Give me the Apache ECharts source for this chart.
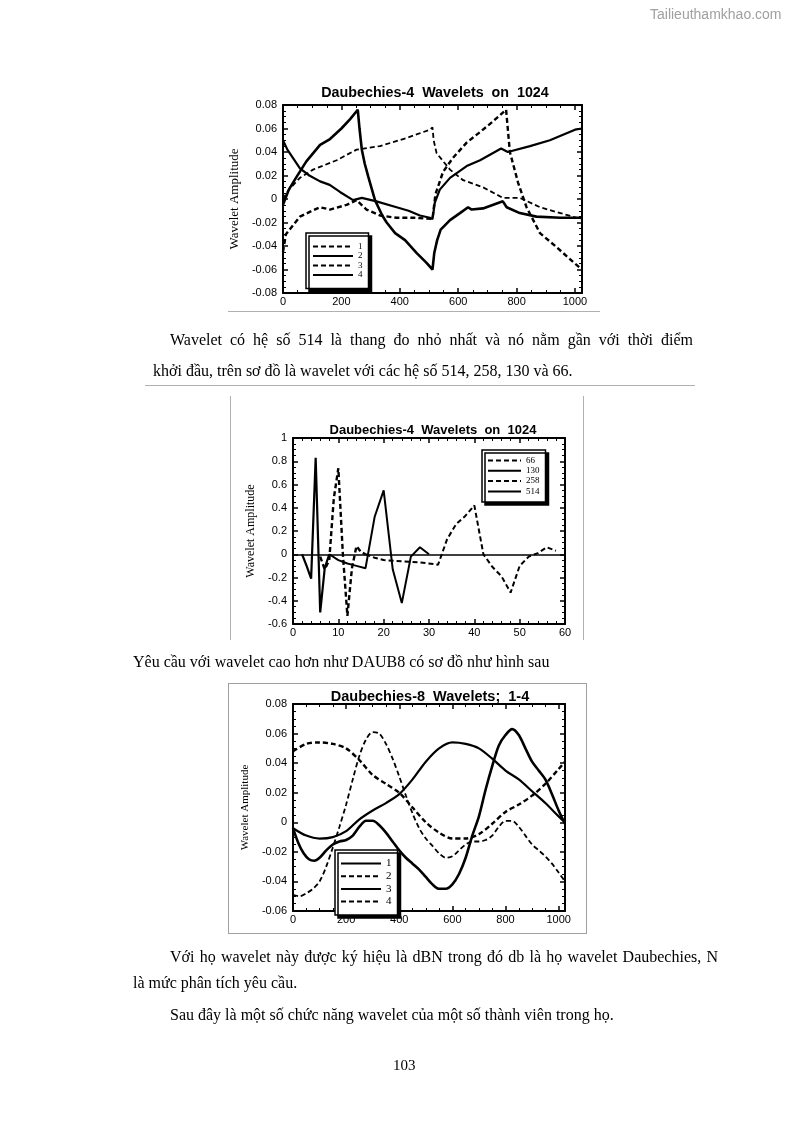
<!DOCTYPE html>
<html>
<head>
<meta charset="utf-8">
<script src="https://cdn.jsdelivr.net/npm/echarts@6/dist/echarts.min.js"></script>
<style>
  html,body{margin:0;padding:0;background:#fff;}
  #page{position:relative;width:794px;height:1123px;overflow:hidden;background:#fff;}
  #chart{position:absolute;left:0;top:0;width:794px;height:1123px;}
  .t{position:absolute;font-family:'Liberation Serif','Times New Roman',serif;font-size:16px;line-height:18px;color:#000;white-space:nowrap;}
  .j{text-align:justify;text-align-last:justify;white-space:normal;}
  .g{position:absolute;background:#b0b0b0;}
</style>
</head>
<body>
<div id="page">
  <div id="chart"></div>
  <div class="t" style="left:650px;top:5px;font-family:'Liberation Sans',Arial,sans-serif;font-size:14px;color:#a0a0a0;">Tailieuthamkhao.com</div>
  <div class="g" style="left:228px;top:311px;width:372px;height:1px;"></div>
  <div class="t j" style="left:170px;top:331px;width:523px;">Wavelet có hệ số 514 là thang đo nhỏ nhất và nó nằm gần với thời điểm</div>
  <div class="t" style="left:153px;top:362px;">khởi đầu, trên sơ đồ là wavelet với các hệ số 514, 258, 130 và 66.</div>
  <div class="g" style="left:145px;top:385px;width:550px;height:1px;"></div>
  <div class="g" style="left:230px;top:396px;width:1px;height:244px;"></div>
  <div class="g" style="left:583px;top:396px;width:1px;height:244px;"></div>
  <div class="t" style="left:133px;top:653px;">Yêu cầu với wavelet cao hơn như DAUB8 có sơ đồ như hình sau</div>
  <div style="position:absolute;left:228px;top:683px;width:357px;height:249px;border:1px solid #a0a0a0;"></div>
  <div class="t j" style="left:170px;top:948px;width:548px;">Với họ wavelet này được ký hiệu là dBN trong đó db là họ wavelet Daubechies, N</div>
  <div class="t" style="left:133px;top:974px;">là mức phân tích yêu cầu.</div>
  <div class="t" style="left:170px;top:1006px;">Sau đây là một số chức năng wavelet của một số thành viên trong họ.</div>
  <div class="t" style="left:393px;top:1056px;font-size:15px;">103</div>
</div>
<script>
// ---------- Chart 1: Daubechies-4 wavelets on 1024 (components 1-4) ----------
const d4_1_x = [0, 20, 58, 103, 184, 252, 332, 424, 503, 512, 516, 526, 572, 617, 685, 753, 811, 880, 950, 1006, 1024];
const d4_1_y = [0.000, 0.008, 0.018, 0.025, 0.033, 0.042, 0.045, 0.052, 0.059, 0.061, 0.050, 0.039, 0.025, 0.016, 0.010, 0.001, 0.001, -0.007, -0.012, -0.016, -0.017];

const d4_2_x = [0, 15, 58, 90, 127, 160, 195, 240, 270, 320, 389, 430, 469, 503, 512, 520, 537, 572, 629, 675, 747, 770, 846, 914, 1000, 1024];
const d4_2_y = [0.050, 0.042, 0.026, 0.020, 0.015, 0.012, 0.006, -0.001, 0.001, -0.002, -0.007, -0.010, -0.014, -0.016, -0.017, -0.003, 0.008, 0.018, 0.028, 0.033, 0.043, 0.040, 0.045, 0.050, 0.059, 0.060];

const d4_3_x = [0, 10, 58, 100, 127, 161, 218, 252, 286, 332, 389, 450, 512, 522, 548, 582, 629, 675, 719, 764, 777, 805, 834, 880, 937, 1000, 1024];
const d4_3_y = [-0.045, -0.030, -0.015, -0.010, -0.007, -0.009, -0.005, -0.001, -0.009, -0.014, -0.016, -0.016, -0.017, 0.004, 0.023, 0.035, 0.048, 0.057, 0.066, 0.076, 0.040, 0.014, -0.007, -0.029, -0.041, -0.055, -0.060];

const d4_4_x = [0, 20, 47, 80, 127, 161, 200, 230, 256, 262, 270, 280, 292, 315, 340, 355, 384, 418, 458, 490, 512, 518, 528, 540, 572, 606, 634, 646, 685, 753, 766, 811, 868, 950, 1024];
const d4_4_y = [-0.005, 0.008, 0.019, 0.032, 0.046, 0.051, 0.060, 0.068, 0.076, 0.060, 0.042, 0.030, 0.019, -0.001, -0.014, -0.020, -0.029, -0.035, -0.046, -0.054, -0.060, -0.046, -0.035, -0.026, -0.018, -0.012, -0.007, -0.009, -0.008, -0.002, -0.007, -0.012, -0.015, -0.016, -0.016];

// ---------- Chart 2: Daubechies-4 wavelets on 1024 (coefficients 66, 130, 258, 514) ----------
const w66_x = [16, 18, 20, 24, 28, 32, 34, 36, 38, 40, 42, 44, 46, 48, 50, 52, 54, 56, 58];
const w66_y = [0, -0.03, -0.05, -0.06, -0.07, -0.09, 0.13, 0.26, 0.33, 0.42, 0.0, -0.11, -0.19, -0.33, -0.10, -0.02, 0.01, 0.06, 0.03];

const w130_x = [8, 10, 12, 14, 16, 18, 20, 22, 24, 26, 28, 30];
const w130_y = [0, -0.05, -0.08, -0.10, -0.12, 0.32, 0.55, -0.13, -0.42, -0.02, 0.06, 0];

const w258_x = [6, 7, 8, 9, 10, 11, 12, 13, 14, 15, 16];
const w258_y = [-0.02, -0.13, -0.05, 0.48, 0.74, 0.0, -0.53, -0.12, 0.07, 0.02, 0];

const w514_x = [2, 3, 4, 5, 6, 7, 8];
const w514_y = [0, -0.10, -0.21, 0.83, -0.50, -0.12, 0];

// ---------- Chart 3: Daubechies-8 wavelets; 1-4 ----------
const d8_1_x = [0, 50, 100, 150, 200, 250, 300, 350, 400, 450, 500, 550, 600, 650, 700, 750, 800, 850, 900, 950, 1000, 1024];
const d8_1_y = [-0.004, -0.009, -0.011, -0.010, -0.006, 0.002, 0.008, 0.013, 0.019, 0.029, 0.041, 0.050, 0.054, 0.053, 0.050, 0.043, 0.035, 0.029, 0.021, 0.013, 0.004, 0.0];

const d8_2_x = [0, 50, 100, 150, 200, 250, 300, 350, 400, 450, 500, 550, 600, 650, 700, 750, 800, 850, 900, 950, 1000, 1024];
const d8_2_y = [0.048, 0.053, 0.054, 0.053, 0.050, 0.042, 0.032, 0.026, 0.020, 0.010, 0.000, -0.007, -0.011, -0.011, -0.008, -0.001, 0.007, 0.012, 0.018, 0.026, 0.036, 0.041];

const d8_3_x = [0, 20, 40, 60, 80, 100, 125, 150, 175, 200, 225, 250, 275, 300, 325, 350, 375, 400, 425, 450, 475, 500, 525, 550, 575, 600, 625, 650, 675, 700, 725, 750, 775, 800, 825, 850, 875, 900, 925, 950, 975, 1000, 1024];
const d8_3_y = [-0.004, -0.014, -0.021, -0.025, -0.026, -0.024, -0.019, -0.015, -0.013, -0.012, -0.009, -0.003, 0.001, 0.001, -0.002, -0.007, -0.013, -0.019, -0.024, -0.028, -0.032, -0.037, -0.042, -0.045, -0.045, -0.042, -0.035, -0.024, -0.009, 0.004, 0.022, 0.038, 0.052, 0.059, 0.063, 0.059, 0.050, 0.041, 0.035, 0.029, 0.019, 0.008, -0.001];

const d8_4_x = [0, 25, 50, 75, 100, 125, 150, 175, 200, 225, 250, 275, 300, 325, 350, 375, 400, 425, 450, 475, 500, 525, 550, 575, 600, 625, 650, 675, 700, 725, 750, 775, 800, 825, 850, 875, 900, 925, 950, 975, 1000, 1024];
const d8_4_y = [-0.049, -0.050, -0.048, -0.045, -0.040, -0.030, -0.017, -0.003, 0.012, 0.029, 0.045, 0.056, 0.061, 0.060, 0.053, 0.043, 0.031, 0.018, 0.006, -0.004, -0.011, -0.016, -0.021, -0.024, -0.023, -0.019, -0.015, -0.013, -0.013, -0.012, -0.009, -0.003, 0.001, 0.001, -0.003, -0.009, -0.015, -0.019, -0.023, -0.028, -0.034, -0.040];

// ---------- text ----------
const titles = ['Daubechies-4  Wavelets  on  1024', 'Daubechies-4  Wavelets  on  1024', 'Daubechies-8  Wavelets;  1-4'];
const yName = 'Wavelet Amplitude';

function pairs(xs, ys) { return xs.map((x, i) => [x, ys[i]]); }

const SANS = "'Liberation Sans', Arial, sans-serif";
const SERIF = "'Liberation Serif', 'Times New Roman', serif";

const grids = [
  {left: 283, top: 105, width: 299, height: 188},
  {left: 293, top: 438, width: 272, height: 186},
  {left: 293, top: 704, width: 272, height: 207}
];
const axisCfg = [
  {xmax: 1024, xint: 200, xminor: 4, ymin: -0.08, ymax: 0.08, yint: 0.02, yminor: 4, gap: 42, nfs: 13},
  {xmax: 60, xint: 10, xminor: 5, ymin: -0.6, ymax: 1, yint: 0.2, yminor: 4, gap: 36, nfs: 12},
  {xmax: 1024, xint: 200, xminor: 4, ymin: -0.06, ymax: 0.08, yint: 0.02, yminor: 4, gap: 42, nfs: 11}
];

const xAxes = [], yAxes = [];
axisCfg.forEach((c, g) => {
  const line = {show: true, onZero: false, lineStyle: {color: '#000', width: 2}};
  const tick = {show: true, inside: true, length: 5, lineStyle: {color: '#000', width: 1.5}};
  xAxes.push({
    type: 'value', gridIndex: g, position: 'bottom', min: 0, max: c.xmax, interval: c.xint,
    axisLine: line, axisTick: tick,
    minorTick: {show: true, splitNumber: c.xminor, length: 3, lineStyle: {color: '#000', width: 1}},
    splitLine: {show: false},
    axisLabel: {color: '#000', fontFamily: SANS, fontSize: 11, margin: 3,
      formatter: v => (Math.abs(v / c.xint - Math.round(v / c.xint)) < 1e-6 ? String(v) : '')}
  });
  xAxes.push({
    type: 'value', gridIndex: g, position: 'top', min: 0, max: c.xmax, interval: c.xint,
    axisLine: line, axisTick: tick,
    minorTick: {show: true, splitNumber: c.xminor, length: 3, lineStyle: {color: '#000', width: 1}},
    splitLine: {show: false}, axisLabel: {show: false}
  });
  yAxes.push({
    type: 'value', gridIndex: g, position: 'left', min: c.ymin, max: c.ymax, interval: c.yint,
    axisLine: line, axisTick: tick,
    minorTick: {show: true, splitNumber: c.yminor, length: 3, lineStyle: {color: '#000', width: 1}},
    splitLine: {show: false},
    axisLabel: {color: '#000', fontFamily: SANS, fontSize: 11, margin: 6},
    name: yName, nameLocation: 'middle', nameRotate: 90, nameGap: c.gap,
    nameTextStyle: {fontFamily: SERIF, fontSize: c.nfs, color: '#000'}
  });
  yAxes.push({
    type: 'value', gridIndex: g, position: 'right', min: c.ymin, max: c.ymax, interval: c.yint,
    axisLine: line, axisTick: tick,
    minorTick: {show: true, splitNumber: c.yminor, length: 3, lineStyle: {color: '#000', width: 1}},
    splitLine: {show: false}, axisLabel: {show: false}
  });
});

function ser(name, g, xs, ys, width, dash, smooth) {
  return {
    name: name, type: 'line', xAxisIndex: 2 * g, yAxisIndex: 2 * g,
    data: pairs(xs, ys), symbol: 'none', smooth: smooth || false,
    lineStyle: {color: '#000', width: width, type: dash ? dash : 'solid'},
    itemStyle: {color: '#000'}
  };
}

const series = [
  ser('a1', 0, d4_1_x, d4_1_y, 1.8, [5, 3]),
  ser('a2', 0, d4_2_x, d4_2_y, 2.2),
  ser('a3', 0, d4_3_x, d4_3_y, 2.4, [5, 3]),
  ser('a4', 0, d4_4_x, d4_4_y, 2.6),
  ser('66', 1, w66_x, w66_y, 2, [5, 3]),
  ser('130', 1, w130_x, w130_y, 2),
  ser('258', 1, w258_x, w258_y, 2.4, [5, 3]),
  ser('514', 1, w514_x, w514_y, 2.2),
  ser('c1', 2, d8_1_x, d8_1_y, 2.2, null, 0.3),
  ser('c2', 2, d8_2_x, d8_2_y, 2.4, [5, 3], 0.3),
  ser('c3', 2, d8_3_x, d8_3_y, 2.6, null, 0.3),
  ser('c4', 2, d8_4_x, d8_4_y, 1.8, [5, 3], 0.3)
];
series[7].markLine = {
  silent: true, symbol: ['none', 'none'], label: {show: false}, animation: false,
  lineStyle: {color: '#000', type: 'solid', width: 1.6}, data: [{yAxis: 0}]
};

function legend(names, left, top, pad, iw, ih, gap, fs) {
  return {
    orient: 'vertical', left: left, top: top, itemWidth: iw, itemHeight: ih, itemGap: gap,
    padding: pad, backgroundColor: '#fff', borderColor: '#000', borderWidth: 1.5,
    shadowColor: '#000', shadowOffsetX: 3, shadowOffsetY: 3, shadowBlur: 0,
    selectedMode: false, data: names,
    itemStyle: {opacity: 0},
    formatter: n => n.replace(/^[ac]/, ''),
    textStyle: {fontFamily: SERIF, fontSize: fs, lineHeight: ih, color: '#000', padding: 0}
  };
}

const tStyle = fs => ({fontFamily: SANS, fontWeight: 'bold', fontSize: fs, color: '#000'});

const option = {
  animation: false,
  backgroundColor: 'transparent',
  title: [
    {text: titles[0], left: 430, top: 81, textAlign: 'center', textStyle: tStyle(14.3)},
    {text: titles[1], left: 428, top: 419, textAlign: 'center', textStyle: tStyle(13)},
    {text: titles[2], left: 425, top: 684, textAlign: 'center', textStyle: tStyle(14.5)}
  ],
  grid: grids,
  xAxis: xAxes,
  yAxis: yAxes,
  legend: [
    legend(['a1', 'a2', 'a3', 'a4'], 306, 233, [9, 6, 9, 6], 40, 8, 0.5, 9),
    legend(['66', '130', '258', '514'], 482, 450, [6, 6, 6, 5], 33, 8, 1.3, 9),
    legend(['c1', 'c2', 'c3', 'c4'], 335, 850, [8, 6, 8, 5], 40, 10, 1.7, 11)
  ],
  series: series
};

const chart = echarts.init(document.getElementById('chart'), null, {renderer: 'canvas'});
chart.setOption(option);
</script>
</body>
</html>
